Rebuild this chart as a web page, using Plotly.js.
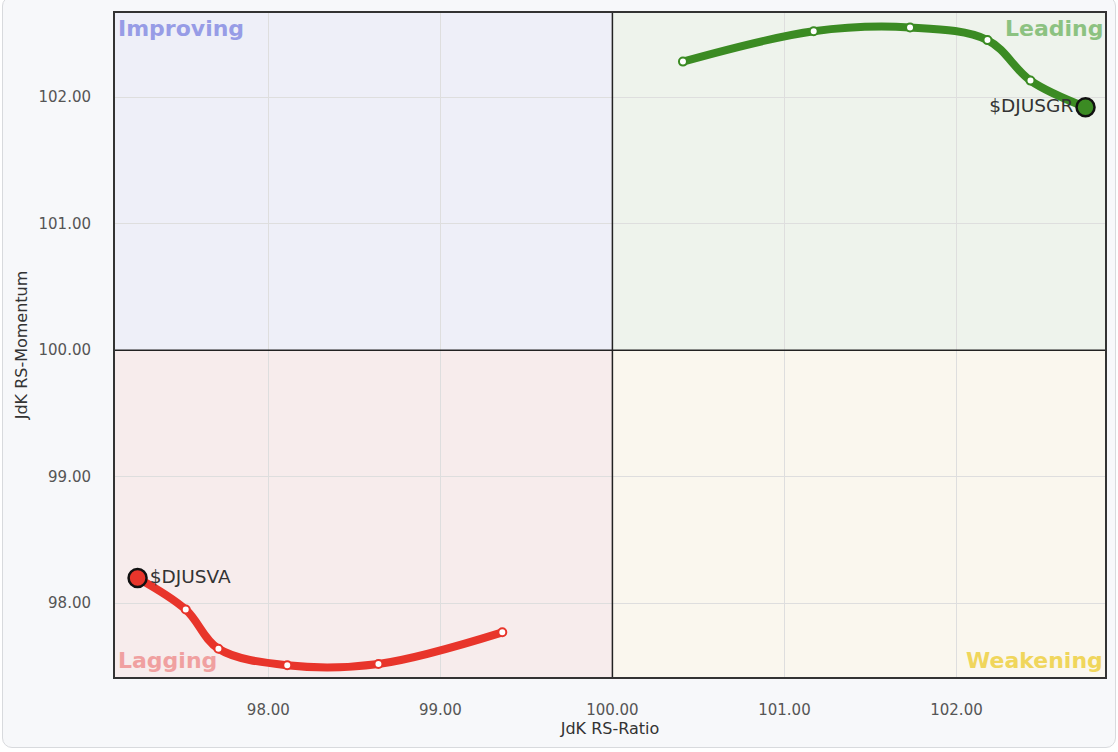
<!DOCTYPE html>
<html><head><meta charset="utf-8">
<script src="https://cdn.plot.ly/plotly-3.0.1.min.js"></script>
<style>
html,body{margin:0;padding:0;background:#ffffff;}
#card{position:absolute;left:2px;top:-4px;width:1112px;height:750px;background:#f7f8fa;border:1px solid #d8dadd;border-radius:10px;}
#chart{position:absolute;left:0;top:0;width:1118px;height:752px;}
</style></head>
<body>
<div id="card"></div>
<div id="chart"></div>
<script>
// Data
const growthName = "$DJUSGR";
const growthRatio = [100.41, 101.17, 101.73, 102.18, 102.43, 102.75];
const growthMomentum = [102.28, 102.52, 102.55, 102.45, 102.13, 101.92];
const valueName = "$DJUSVA";
const valueRatio = [99.36, 98.64, 98.11, 97.71, 97.52, 97.24];
const valueMomentum = [97.77, 97.52, 97.51, 97.64, 97.95, 98.20];
const quadrantLabels = ["Improving", "Leading", "Lagging", "Weakening"];
const tickValues = [98, 99, 100, 101, 102];

const xr = [97.103, 102.869], yr = [97.409, 102.672];
const green = "#3b8b23", red = "#e8352b";
const FONT = "DejaVu Sans, Verdana, sans-serif";

function tail(xs, ys, col){
  return {x: xs, y: ys, type:"scatter", mode:"lines+markers", hoverinfo:"skip",
    line:{color:col, width:8, shape:"spline", smoothing:1},
    marker:{size:8, color:"#ffffff", line:{color:col, width:2}}, showlegend:false};
}
function head(xs, ys, col, name, pos){
  const n = xs.length-1;
  return {x:[xs[n]], y:[ys[n]], type:"scatter", mode:"markers+text", text:[name],
    textposition:pos, textfont:{family:FONT, size:18.5, color:"#333"},
    marker:{size:18, color:col, line:{color:"#111", width:2.5}}, showlegend:false, hoverinfo:"skip"};
}
const traces = [
  tail(growthRatio, growthMomentum, green),
  tail(valueRatio, valueMomentum, red),
  head(growthRatio, growthMomentum, green, growthName, "middle left"),
  head(valueRatio, valueMomentum, red, valueName, "middle right")
];
const qfill = ["#eeeff8", "#eef3ec", "#f7ecec", "#faf7ee"];
const shapes = [
  {type:"rect", xref:"x", yref:"y", x0:xr[0], x1:100, y0:100, y1:yr[1], fillcolor:qfill[0], line:{width:0}, layer:"below"},
  {type:"rect", xref:"x", yref:"y", x0:100, x1:xr[1], y0:100, y1:yr[1], fillcolor:qfill[1], line:{width:0}, layer:"below"},
  {type:"rect", xref:"x", yref:"y", x0:xr[0], x1:100, y0:yr[0], y1:100, fillcolor:qfill[2], line:{width:0}, layer:"below"},
  {type:"rect", xref:"x", yref:"y", x0:100, x1:xr[1], y0:yr[0], y1:100, fillcolor:qfill[3], line:{width:0}, layer:"below"},
  {type:"line", xref:"x", yref:"paper", x0:100, x1:100, y0:0, y1:1, line:{color:"#222", width:1.5}},
  {type:"line", xref:"paper", yref:"y", x0:0, x1:1, y0:100, y1:100, line:{color:"#222", width:1.5}},
  {type:"rect", xref:"paper", yref:"paper", x0:0, x1:1, y0:0, y1:1, line:{color:"#333", width:2}}
];
const qf = {family:FONT, size:22, weight:"bold"};
const annotations = [
  {text:quadrantLabels[0], xref:"paper", yref:"paper", x:0.002, y:0.997, xanchor:"left", yanchor:"top", showarrow:false, font:Object.assign({color:"#979ce6"}, qf)},
  {text:quadrantLabels[1], xref:"paper", yref:"paper", x:0.999, y:0.997, xanchor:"right", yanchor:"top", showarrow:false, font:Object.assign({color:"#8cc281"}, qf)},
  {text:quadrantLabels[2], xref:"paper", yref:"paper", x:0.002, y:0.004, xanchor:"left", yanchor:"bottom", showarrow:false, font:Object.assign({color:"#f0a0a0"}, qf)},
  {text:quadrantLabels[3], xref:"paper", yref:"paper", x:0.999, y:0.004, xanchor:"right", yanchor:"bottom", showarrow:false, font:Object.assign({color:"#f0d65c"}, qf)}
];
const tf = {family:FONT, size:15, color:"#555"};
const titf = {family:FONT, size:16, color:"#333"};
const layout = {
  width:1118, height:752,
  margin:{l:114, r:12, t:12, b:74, pad:0},
  paper_bgcolor:"rgba(0,0,0,0)", plot_bgcolor:"rgba(0,0,0,0)",
  xaxis:{range:xr, tickvals:tickValues, ticktext:tickValues.map(v=>v.toFixed(2)), showgrid:true, gridcolor:"#dedede", gridwidth:1,
    zeroline:false, showline:false, ticks:"", ticklabelstandoff:21, tickfont:tf,
    title:{text:"JdK RS-Ratio", font:titf, standoff:3}},
  yaxis:{range:yr, tickvals:tickValues, ticktext:tickValues.map(v=>v.toFixed(2)), showgrid:true, gridcolor:"#dedede", gridwidth:1,
    zeroline:false, showline:false, ticks:"", ticklabelstandoff:22, tickfont:tf,
    title:{text:"JdK RS-Momentum", font:titf, standoff:6}},
  shapes:shapes, annotations:annotations, showlegend:false
};
Plotly.newPlot("chart", traces, layout, {displayModeBar:false, staticPlot:true});
</script>
</body></html>
